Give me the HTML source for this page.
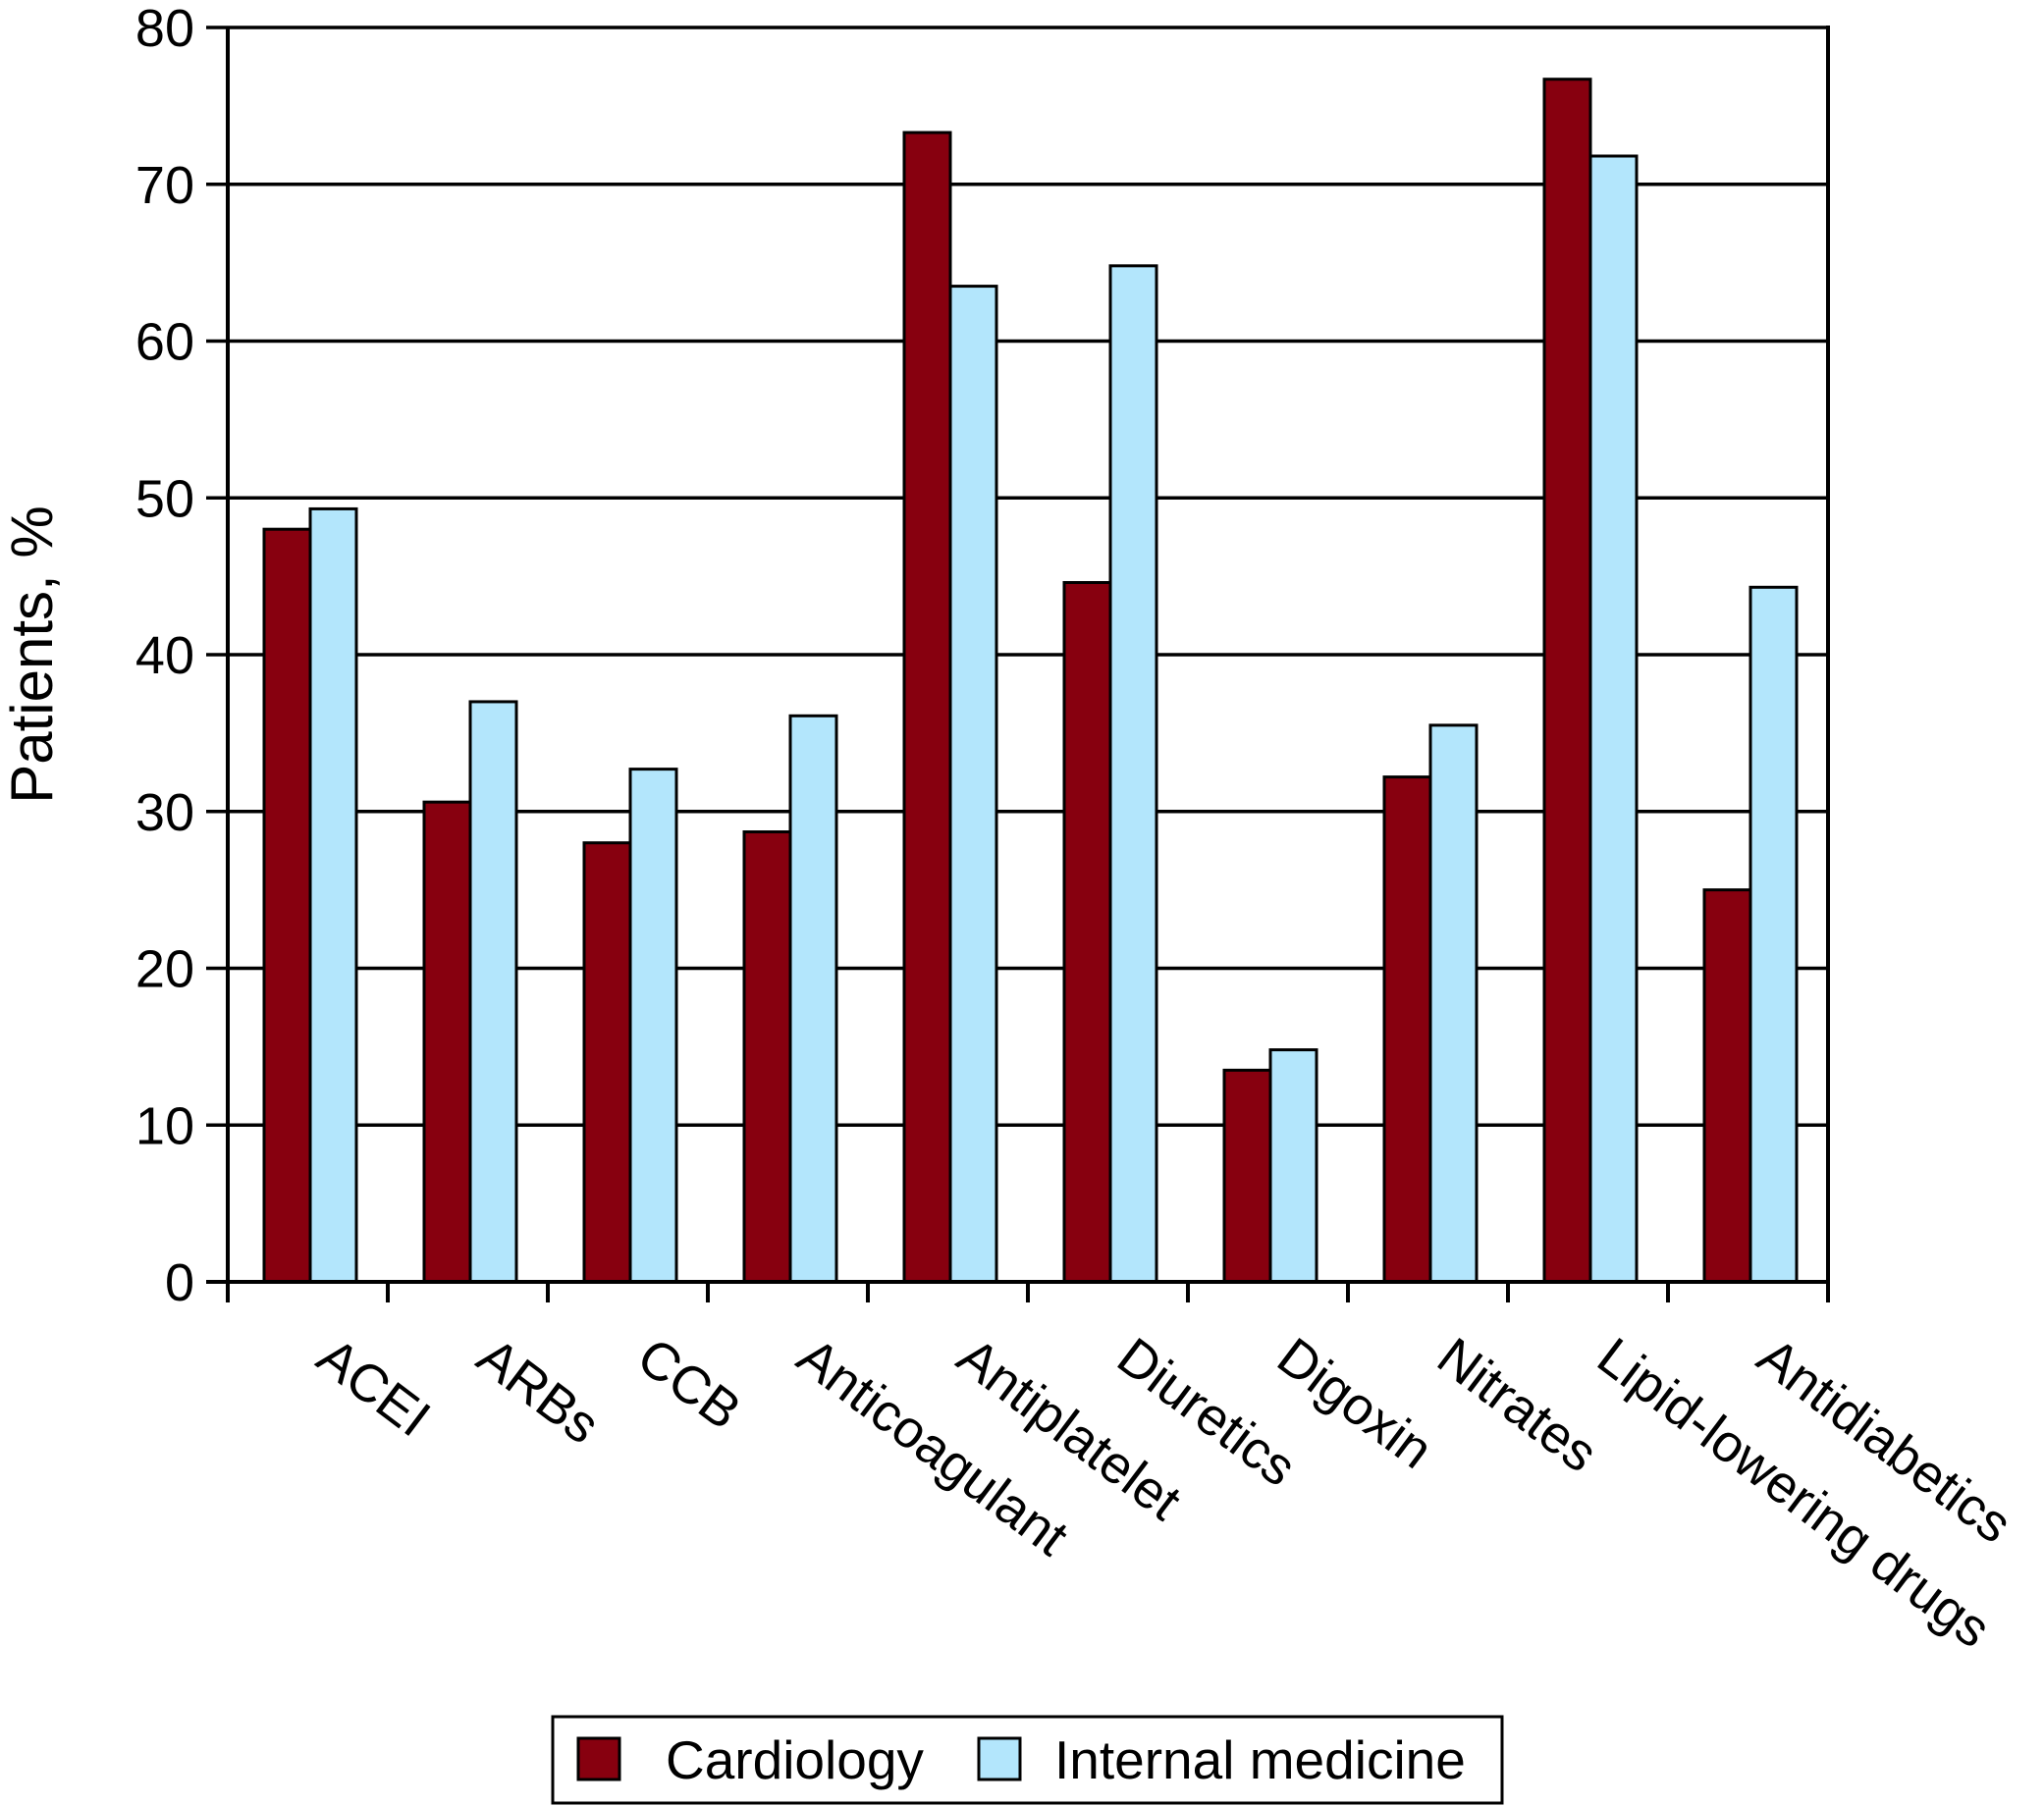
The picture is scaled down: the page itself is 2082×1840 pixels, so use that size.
<!DOCTYPE html>
<html><head><meta charset="utf-8">
<style>
html,body{margin:0;padding:0;background:#fff;}
svg{display:block;font-family:"Liberation Sans",Arial,sans-serif;}
</style></head>
<body>
<svg id="chart" width="2082" height="1840" viewBox="0 0 2082 1840" xmlns="http://www.w3.org/2000/svg">
<g id="grid"></g>
<g id="bars"></g>
<g id="axes"></g>
<g id="xlabels"></g>
<g id="ylabels"></g>
<text x="0" y="0" font-size="60" text-anchor="middle" transform="translate(53,667) rotate(-90)">Patients, %</text>
<g>
  <rect x="563" y="1749" width="967" height="88" fill="#fff" stroke="#000" stroke-width="3"/>
  <rect x="589" y="1771" width="42" height="42" fill="#87000f" stroke="#000" stroke-width="3"/>
  <text x="678" y="1812" font-size="55">Cardiology</text>
  <rect x="997" y="1771" width="42" height="42" fill="#b3e6fc" stroke="#000" stroke-width="3"/>
  <text x="1074" y="1812" font-size="55">Internal medicine</text>
</g>
</svg>
<script>
const categories = ["ACEI","ARBs","CCB","Anticoagulant","Antiplatelet","Diuretics","Digoxin","Nitrates","Lipid-lowering drugs","Antidiabetics"];
const cardiology = [48.0, 30.6, 28.0, 28.7, 73.3, 44.6, 13.5, 32.2, 76.7, 25.0];
const internalMedicine = [49.3, 37.0, 32.7, 36.1, 63.5, 64.8, 14.8, 35.5, 71.8, 44.3];
const yTicks = [0,10,20,30,40,50,60,70,80];

const NS = "http://www.w3.org/2000/svg";
const left = 232, right = 1862, y0 = 1306, yTop = 28, yMax = 80;
const catW = (right - left) / categories.length;
function yScale(v){ return y0 - (y0 - yTop) * v / yMax; }
function xCat(i){ return left + catW * i; }
function mk(tag, attrs, parent){
  const e = document.createElementNS(NS, tag);
  for (const k in attrs) e.setAttribute(k, attrs[k]);
  parent.appendChild(e); return e;
}
const grid = document.getElementById('grid');
const bars = document.getElementById('bars');
const axes = document.getElementById('axes');
const xl = document.getElementById('xlabels');
const yl = document.getElementById('ylabels');

yTicks.forEach(t => {
  const y = yScale(t);
  const ln = mk('line', {x1:210, x2:right, y1:y, y2:y, stroke:'#000', 'stroke-width':3.5}, grid);
  
  
  const tx = mk('text', {x:198, y:y+19, 'font-size':54, 'text-anchor':'end'}, yl);
  tx.textContent = t;
  
  
});

const barW = 47, off = 37;
categories.forEach((c, i) => {
  const x = xCat(i);
  const v1 = cardiology[i], v2 = internalMedicine[i];
  const r1 = mk('rect', {x:x+off, y:yScale(v1), width:barW, height:y0-yScale(v1), fill:'#87000f', stroke:'#000', 'stroke-width':3}, bars);
  
  
  const r2 = mk('rect', {x:x+off+barW, y:yScale(v2), width:barW, height:y0-yScale(v2), fill:'#b3e6fc', stroke:'#000', 'stroke-width':3}, bars);
  
  
  const cx = x + catW/2;
  const lt = mk('text', {x:0, y:0, 'font-size':54, transform:'translate(' + (cx+6) + ',1390) rotate(37)'}, xl);
  lt.textContent = c;
  
  
});

const ya = mk('line', {x1:left, x2:left, y1:yTop, y2:y0+2, stroke:'#000', 'stroke-width':4}, axes);


const ra = mk('line', {x1:right, x2:right, y1:yTop-2, y2:y0, stroke:'#000', 'stroke-width':4}, axes);


const xa = mk('line', {x1:210, x2:right+2, y1:y0, y2:y0, stroke:'#000', 'stroke-width':4}, axes);


for (let i = 0; i <= categories.length; i++) {
  const tk = mk('line', {x1:xCat(i), x2:xCat(i), y1:y0, y2:y0+21, stroke:'#000', 'stroke-width':4}, axes);
  
  
}
</script>
</body></html>
